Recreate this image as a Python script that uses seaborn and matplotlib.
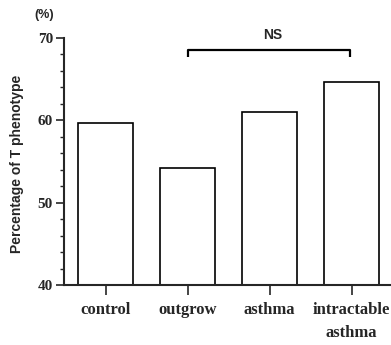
import matplotlib
matplotlib.use("Agg")
import matplotlib.pyplot as plt
import seaborn as sns
import pandas as pd
from matplotlib.ticker import MultipleLocator

categories = ["control", "outgrow", "asthma", "intractable\nasthma"]
values = [59.7, 54.2, 61.0, 64.6]
y_ticks = [40, 50, 60, 70]
ns_label = "NS"
y_label = "Percentage of T phenotype"
unit_label = "(%)"

sns.set_style("ticks")
df = pd.DataFrame({"group": categories, "value": values})

fig = plt.figure(figsize=(3.91, 3.45), dpi=100)
ax = fig.add_axes([64 / 391, 1 - 285 / 345, (390 - 64) / 391, (285 - 38) / 345])

sns.barplot(data=df, x="group", y="value", color="white", edgecolor="black",
            linewidth=1.2, width=0.672, saturation=1, ax=ax)

ax.set_ylim(40, 70)
ax.set_xlim(-0.513, 3.47)
ax.set_yticks(y_ticks)
ax.yaxis.set_minor_locator(MultipleLocator(2))
ax.set_xlabel("")
ax.set_ylabel("")
sns.despine(ax=ax)
for s in ["left", "bottom"]:
    ax.spines[s].set_linewidth(1.5)

ax.tick_params(axis="y", which="major", length=6, width=1.2, pad=2)
ax.tick_params(axis="y", which="minor", length=3, width=1.0)
ax.tick_params(axis="x", which="major", length=7, width=1.2, pad=5)

for lab in ax.get_yticklabels():
    lab.set_family("Liberation Serif")
    lab.set_weight("bold")
    lab.set_size(11)
for lab in ax.get_xticklabels():
    lab.set_family("Liberation Serif")
    lab.set_weight("bold")
    lab.set_size(12)
    lab.set_linespacing(1.65)
    lab.set_va("top")

# NS bracket between outgrow and intractable asthma
x0, x1 = 1, 2.98
yb, yd = 68.55, 67.7
ax.plot([x0, x0, x1, x1], [yd, yb, yb, yd], color="black", lw=1.6,
        clip_on=False, solid_capstyle="butt")
ax.text((x0 + x1) / 2 + 0.05, yb + 1.0, ns_label, ha="center", va="bottom",
        fontsize=10, fontweight="bold", family="Liberation Sans")

fig.text(17 / 391, 1 - 164 / 345, y_label, rotation=90, ha="center", va="center",
         fontsize=10, fontweight="bold", family="Liberation Sans")
fig.text(44 / 391, 1 - 15 / 345, unit_label, ha="center", va="center",
         fontsize=9, fontweight="bold", family="Liberation Sans")

fig.savefig("out.png", dpi=100)
